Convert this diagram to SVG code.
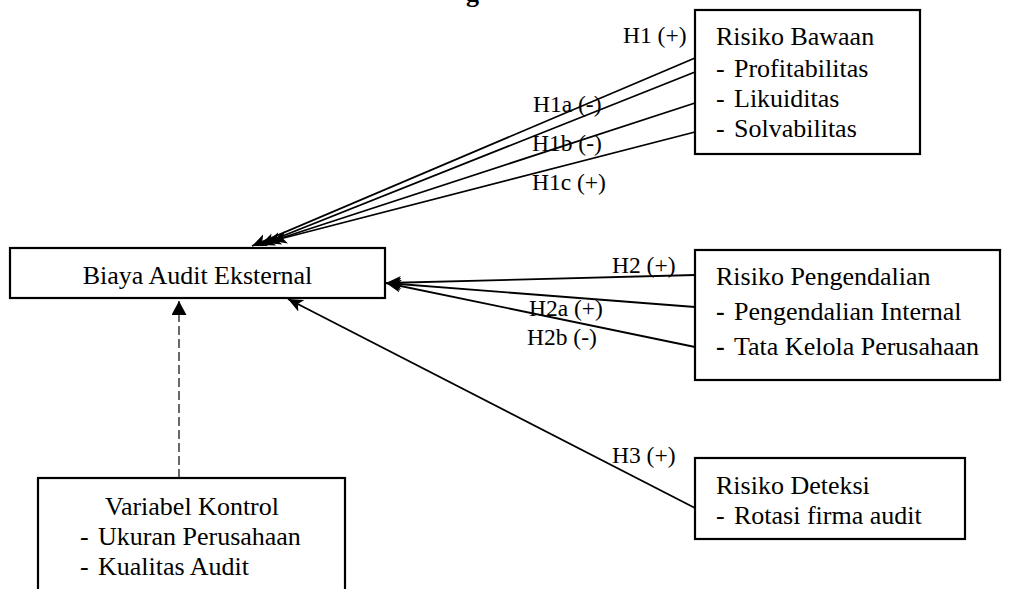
<svg xmlns="http://www.w3.org/2000/svg" width="1035" height="589" viewBox="0 0 1035 589">
<style>
  text { font-family: "Liberation Serif", "Times New Roman", serif; fill: #000; }
  .box { fill: #fff; stroke: #000; stroke-width: 2.2; }
  .t { font-size: 26px; }
  .lbl { font-size: 23.5px; }
  .conn { stroke: #000; stroke-width: 1.8; fill: none; marker-end: url(#stealth); }
  .dash { stroke: #444; stroke-width: 1.6; fill: none; stroke-dasharray: 9 4; marker-end: url(#tri); }
</style>
<defs>
  <marker id="stealth" markerUnits="userSpaceOnUse" markerWidth="17" markerHeight="13" refX="15" refY="6.5" orient="auto">
    <path d="M0,0 L15,6.5 L0,13 L4,6.5 Z" fill="#000"/>
  </marker>
  <marker id="tri" markerUnits="userSpaceOnUse" markerWidth="15" markerHeight="16" refX="14" refY="7.5" orient="auto">
    <path d="M0,0 L14,7.5 L0,15 Z" fill="#000"/>
  </marker>
</defs>
<rect width="1035" height="589" fill="#fff"/>
<text x="466" y="2" style="font-size:26px;font-weight:bold">g</text>

<g id="connectors">
  <line class="conn" x1="695" y1="58" x2="252" y2="246"/>
  <line class="conn" x1="695" y1="72" x2="260" y2="245"/>
  <line class="conn" x1="695" y1="103" x2="266" y2="243"/>
  <line class="conn" x1="695" y1="132" x2="272" y2="241"/>
  <line class="conn" x1="695" y1="275" x2="386" y2="283"/>
  <line class="conn" x1="695" y1="307" x2="386" y2="283"/>
  <line class="conn" x1="695" y1="347" x2="386" y2="283"/>
  <line class="conn" x1="695" y1="508" x2="288" y2="299"/>
  <line class="dash" x1="179" y1="478" x2="179" y2="301"/>
  <text class="lbl" x="623" y="43">H1 (+)</text>
  <text class="lbl" x="533" y="112">H1a (-)</text>
  <text class="lbl" x="532" y="151">H1b (-)</text>
  <text class="lbl" x="532" y="190">H1c (+)</text>
  <text class="lbl" x="612" y="273">H2 (+)</text>
  <text class="lbl" x="529" y="316">H2a (+)</text>
  <text class="lbl" x="527" y="345">H2b (-)</text>
  <text class="lbl" x="612" y="463">H3 (+)</text>
</g>

<g id="risiko-bawaan">
  <rect class="box" x="695" y="10" width="225" height="144"/>
  <text class="t" x="716" y="45">Risiko Bawaan</text>
  <text class="t" y="77"><tspan x="716">-</tspan><tspan x="734">Profitabilitas</tspan></text>
  <text class="t" y="107"><tspan x="716">-</tspan><tspan x="734">Likuiditas</tspan></text>
  <text class="t" y="137"><tspan x="716">-</tspan><tspan x="734">Solvabilitas</tspan></text>
</g>

<g id="biaya-audit">
  <rect class="box" x="10" y="248" width="375" height="50"/>
  <text class="t" x="197.5" y="284" text-anchor="middle">Biaya Audit Eksternal</text>
</g>

<g id="risiko-pengendalian">
  <rect class="box" x="695" y="250" width="305" height="130"/>
  <text class="t" x="716" y="285">Risiko Pengendalian</text>
  <text class="t" y="320"><tspan x="716" font-weight="bold">-</tspan><tspan x="734">Pengendalian Internal</tspan></text>
  <text class="t" y="355"><tspan x="716" font-weight="bold">-</tspan><tspan x="734">Tata Kelola Perusahaan</tspan></text>
</g>

<g id="risiko-deteksi">
  <rect class="box" x="695" y="458" width="270" height="81"/>
  <text class="t" x="716" y="494">Risiko Deteksi</text>
  <text class="t" y="524"><tspan x="716">-</tspan><tspan x="734">Rotasi firma audit</tspan></text>
</g>

<g id="variabel-kontrol">
  <rect class="box" x="38" y="478" width="307" height="130"/>
  <text class="t" x="192" y="515" text-anchor="middle">Variabel Kontrol</text>
  <text class="t" y="545"><tspan x="80">-</tspan><tspan x="98">Ukuran Perusahaan</tspan></text>
  <text class="t" y="575"><tspan x="80">-</tspan><tspan x="98">Kualitas Audit</tspan></text>
</g>
</svg>
